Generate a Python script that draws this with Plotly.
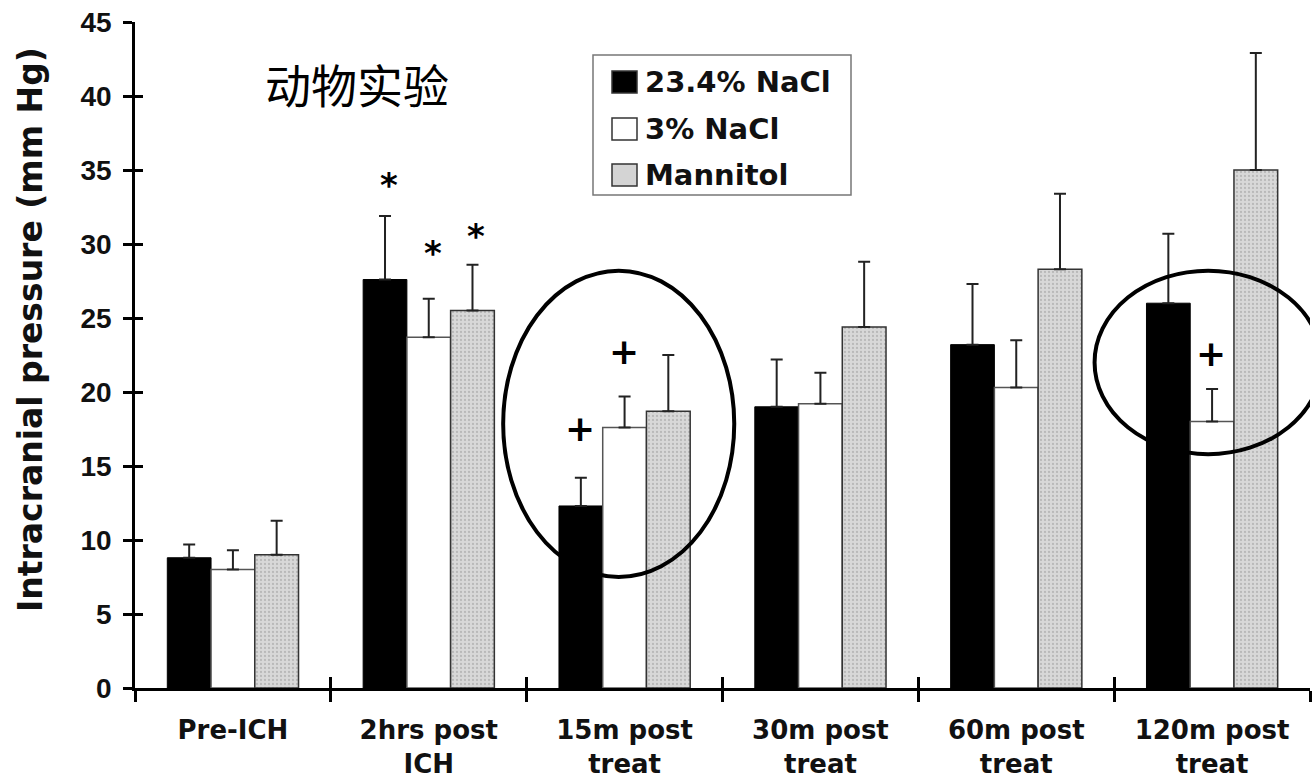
import plotly.graph_objects as go

# Time points and group names
categories = ["Pre-ICH", "2hrs post<br>ICH", "15m post<br>treat", "30m post<br>treat",
              "60m post<br>treat", "120m post<br>treat"]
series_names = ["23.4% NaCl", "3% NaCl", "Mannitol"]

# Mean intracranial pressure (mm Hg) and upper error (SEM)
nacl_234 = [8.8, 27.6, 12.3, 19.0, 23.2, 26.0]
nacl_234_err = [0.9, 4.3, 1.9, 3.2, 4.1, 4.7]
nacl_3 = [8.0, 23.7, 17.6, 19.2, 20.3, 18.0]
nacl_3_err = [1.3, 2.6, 2.1, 2.1, 3.2, 2.2]
mannitol = [9.0, 25.5, 18.7, 24.4, 28.3, 35.0]
mannitol_err = [2.3, 3.1, 3.8, 4.4, 5.1, 7.9]

# Significance marks: (category index, series index, height, symbol)
sig_marks = [
    (1, 0, 34.5, "*"), (1, 1, 29.9, "*"), (1, 2, 31.1, "*"),
    (2, 0, 17.4, "+"), (2, 1, 22.6, "+"), (5, 1, 22.5, "+"),
]

# Highlight ellipses (category-index x span, y span)
ellipses = [(1.38, 2.56, 7.5, 28.2), (4.40, 5.56, 15.8, 28.2)]

W, H = 1313, 782
ML, MR, MT, MB = 135, 3, 22, 94
PW, PH = W - ML - MR, H - MT - MB
BARGAP = 0.33
FONT = "DejaVu Sans"
TICK_FONT = "Liberation Sans"

fills = [
    dict(color="black", line=dict(color="black", width=1)),
    dict(color="white", line=dict(color="#555555", width=1.5)),
    dict(color="#d4d4d4", line=dict(color="#333333", width=1.5),
         pattern=dict(shape=".", bgcolor="#d8d8d8", fgcolor="#9a9a9a", size=4, solidity=0.25)),
]
values = [nacl_234, nacl_3, mannitol]
errors = [nacl_234_err, nacl_3_err, mannitol_err]

fig = go.Figure()
for name, vals, errs, mk in zip(series_names, values, errors, fills):
    fig.add_trace(go.Bar(
        x=categories, y=vals, name=name, marker=mk, showlegend=False,
        error_y=dict(type="data", array=errs, arrayminus=[0] * len(errs), symmetric=False,
                     color="#222222", thickness=2, width=6),
    ))

# invisible trace carrying the overlay axes used for the inner tick halves
fig.add_trace(go.Scatter(x=categories, y=[0] * len(categories), xaxis="x2", yaxis="y2",
                         mode="markers", marker=dict(opacity=0), hoverinfo="skip",
                         showlegend=False))

axis_line = dict(showline=True, linecolor="black", linewidth=2.5, tickcolor="black",
                 tickwidth=2.5, showgrid=False, zeroline=False, automargin=False)

fig.update_layout(
    width=W, height=H, margin=dict(l=ML, r=MR, t=MT, b=MB),
    paper_bgcolor="white", plot_bgcolor="white",
    barmode="group", bargap=BARGAP, bargroupgap=0,
    font=dict(family=FONT, color="black"),
    xaxis=dict(type="category", categoryorder="array", categoryarray=categories,
               range=[-0.5, 5.5], tickson="boundaries", ticks="outside", ticklen=11,
               ticklabelstandoff=17,
               tickfont=dict(family=FONT, size=26, color="#111111", weight="bold"),
               **axis_line),
    xaxis2=dict(type="category", categoryorder="array", categoryarray=categories,
                overlaying="x", anchor="y2", range=[-0.5, 5.5], tickson="boundaries",
                ticks="inside", ticklen=11, tickcolor="black", tickwidth=2.5,
                showticklabels=False, showline=False, showgrid=False, zeroline=False,
                automargin=False),
    yaxis=dict(range=[0, 45], dtick=5, ticks="outside", ticklen=9, ticklabelstandoff=6,
               tickfont=dict(family=TICK_FONT, size=28, color="#111111", weight="bold"),
               **axis_line),
    yaxis2=dict(overlaying="y", anchor="x2", range=[0, 45], dtick=5, ticks="inside",
                ticklen=8, tickcolor="black", tickwidth=2.5, showticklabels=False,
                showline=False, showgrid=False, zeroline=False, automargin=False),
)


def px_x(px):
    return (px - ML) / PW


def px_y(py):
    return (H - MB - py) / PH


annotations = []

# y axis title
annotations.append(dict(
    text="Intracranial pressure (mm Hg)", textangle=-90, showarrow=False,
    xref="paper", yref="paper", x=px_x(30), y=px_y(330), xanchor="center", yanchor="middle",
    font=dict(family=FONT, size=33, color="#111111", weight="bold"),
))

# panel label
annotations.append(dict(
    text="动物实验", showarrow=False, xref="paper", yref="paper",
    x=px_x(357), y=px_y(83), xanchor="center", yanchor="middle",
    font=dict(family="Noto Sans CJK SC", size=46, color="black"),
))

# significance marks above bars
cat_px = PW / len(categories)
bar_px = (1 - BARGAP) * cat_px / len(series_names)
for ci, si, yv, sym in sig_marks:
    annotations.append(dict(
        text=sym, showarrow=False, xref="x", yref="y", x=categories[ci], y=yv,
        xshift=(si - 1) * bar_px + (4 if sym == "*" else -1), yshift=-8 if sym == "*" else 2,
        xanchor="center", yanchor="middle",
        font=dict(family=FONT, size=34 if sym == "*" else 36, color="black", weight="bold"),
    ))

shapes = []
for x0, x1, y0, y1 in ellipses:
    shapes.append(dict(type="circle", xref="x", yref="y", x0=x0, x1=x1, y0=y0, y1=y1,
                       line=dict(color="black", width=4), layer="above"))

# legend box
shapes.append(dict(type="rect", xref="paper", yref="paper",
                   x0=px_x(593), x1=px_x(851), y0=px_y(195), y1=px_y(55),
                   line=dict(color="#777777", width=1.5), fillcolor="white", layer="above"))
legend_rows = [82, 129, 175]
for name, mk, cy in zip(series_names, fills, legend_rows):
    shapes.append(dict(type="rect", xref="paper", yref="paper",
                       x0=px_x(612), x1=px_x(637), y0=px_y(cy + 11), y1=px_y(cy - 11),
                       fillcolor=mk["color"], line=dict(color="#333333", width=1.5),
                       layer="above"))
    annotations.append(dict(
        text=name, showarrow=False, xref="paper", yref="paper",
        x=px_x(643), y=px_y(cy), xanchor="left", yanchor="middle",
        font=dict(family=FONT, size=29, color="#111111", weight="bold"),
    ))

fig.update_layout(annotations=annotations, shapes=shapes)

fig.write_html("out.html")
